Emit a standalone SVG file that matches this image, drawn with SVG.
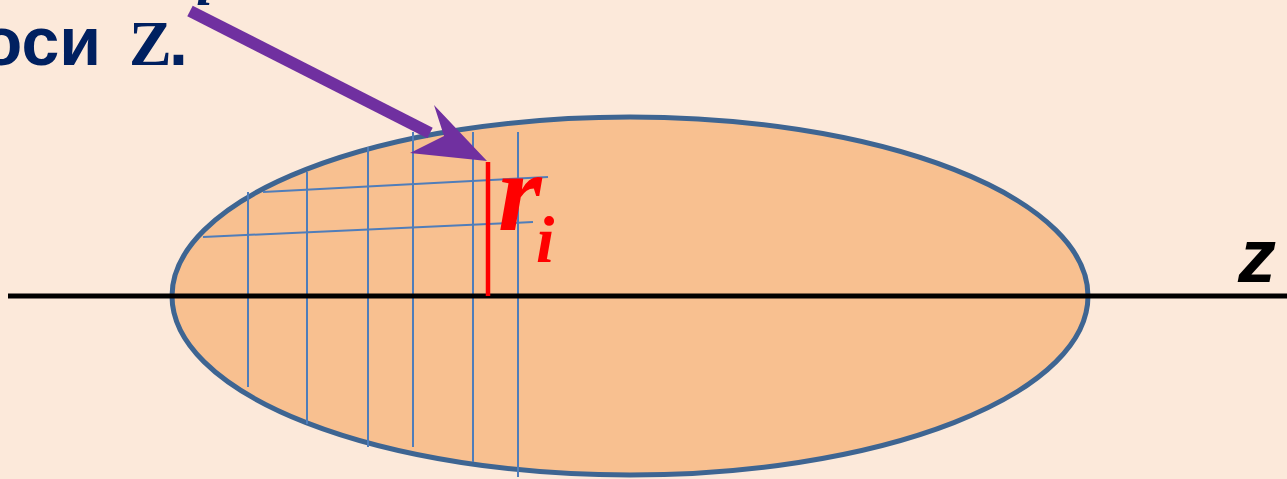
<svg xmlns="http://www.w3.org/2000/svg" width="1287" height="479" viewBox="0 0 1287 479">
<style>
.grid{stroke:#4F7DBA;stroke-width:2;fill:none}
.navy{fill:#002060;font-weight:bold}
</style>
<rect width="1287" height="479" fill="#FCE9DA"/>
<g id="title">
<text class="navy" x="101" y="65" text-anchor="end" font-family="Liberation Sans, Arial, sans-serif" font-size="68">оси</text>
<text class="navy" x="129" y="65" font-family="Liberation Serif, Times New Roman, serif" font-size="64">Z</text>
<text class="navy" x="169" y="65" font-family="Liberation Sans, Arial, sans-serif" font-size="68">.</text>
<text class="navy" x="196" y="5" font-family="Liberation Serif, Times New Roman, serif" font-style="italic" font-size="60">i</text>
</g>
<g id="body">
<ellipse cx="630" cy="296" rx="458" ry="179" fill="#F8C090" stroke="#3E6592" stroke-width="5"/>
</g>
<g id="grid">
<line class="grid" x1="248" y1="192" x2="248" y2="387"/>
<line class="grid" x1="307" y1="172" x2="307" y2="424"/>
<line class="grid" x1="368" y1="147" x2="368" y2="447"/>
<line class="grid" x1="413" y1="132" x2="413" y2="447"/>
<line class="grid" x1="473" y1="132" x2="473" y2="462"/>
<line class="grid" x1="518" y1="132" x2="518" y2="477"/>
<line class="grid" x1="263" y1="192" x2="548" y2="177"/>
<line class="grid" x1="203" y1="237" x2="533" y2="222"/>
</g>
<g id="axis">
<line x1="8" y1="296" x2="1287" y2="296" stroke="#000" stroke-width="5"/>
<text x="1238" y="282" font-family="Liberation Sans, Arial, sans-serif" font-weight="bold" font-style="italic" font-size="76" fill="#000">z</text>
</g>
<g id="radius">
<line x1="488" y1="162" x2="488" y2="296" stroke="#FF0000" stroke-width="4.5"/>
<text x="498" y="230" font-family="Liberation Serif, Times New Roman, serif" font-weight="bold" font-style="italic" font-size="112" fill="#FF0000">r</text>
<text x="536" y="262" font-family="Liberation Serif, Times New Roman, serif" font-weight="bold" font-style="italic" font-size="66" fill="#FF0000">i</text>
</g>
<g id="connectors">
<line x1="190" y1="11" x2="430" y2="133" stroke="#7030A0" stroke-width="12"/>
<polygon points="487,161 434,105 444,136 410,153" fill="#7030A0"/>
</g>
</svg>
